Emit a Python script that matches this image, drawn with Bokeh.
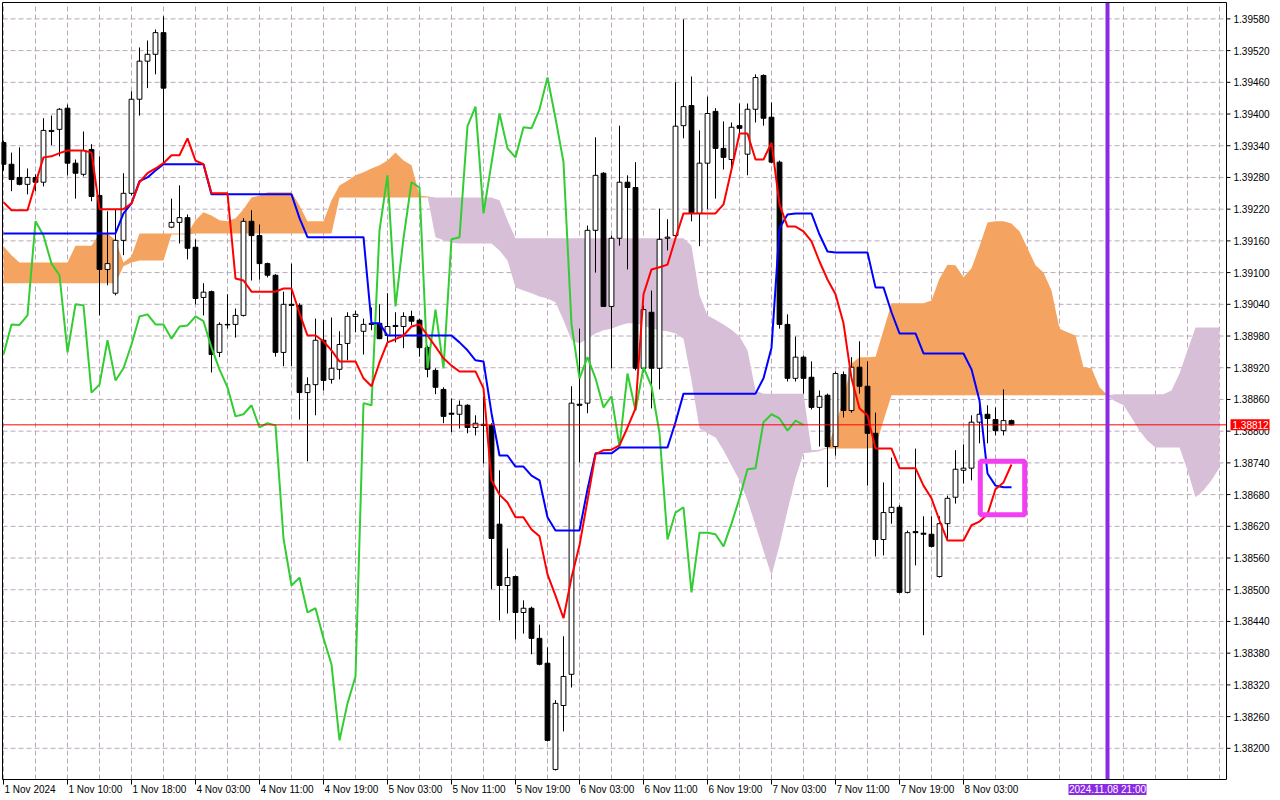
import numpy as np
from bokeh.plotting import figure
from bokeh.models import Range1d, BoxAnnotation, GlobalInlineStyleSheet
from bokeh.core.properties import value
from bokeh.embed import file_html
from bokeh.resources import INLINE

# ---------------- data (H1 candles, 1 Nov 2024 -> 8 Nov 2024 09:00) ----------------
opens = [1.39346, 1.39305, 1.39280, 1.39267, 1.39280, 1.39271, 1.39367, 1.39371, 1.39411, 1.39307,
         1.39286, 1.39333, 1.39246, 1.39106, 1.39061, 1.39161, 1.39250, 1.39428, 1.39500, 1.39513,
         1.39554, 1.39186, 1.39195, 1.39204, 1.39148, 1.39053, 1.39064, 1.38949, 1.39002, 1.39002,
         1.39019, 1.39197, 1.39170, 1.39117, 1.39095, 1.38949, 1.39040, 1.39038, 1.38873, 1.38888,
         1.38972, 1.38898, 1.38917, 1.38966, 1.39017, 1.38989, 1.39004, 1.39004, 1.38981, 1.38998,
         1.38998, 1.39017, 1.39010, 1.38958, 1.38915, 1.38879, 1.38834, 1.38832, 1.38849, 1.38807,
         1.38813, 1.38811, 1.38624, 1.38508, 1.38525, 1.38457, 1.38465, 1.38408, 1.38361, 1.38160,
         1.38281, 1.38340, 1.38851, 1.38853, 1.39180, 1.39288, 1.39036, 1.39165, 1.39271, 1.39261,
         1.38919, 1.39025, 1.38919, 1.39165, 1.39170, 1.39378, 1.39416, 1.39212, 1.39307, 1.39405,
         1.39335, 1.39314, 1.39378, 1.39324, 1.39409, 1.39473, 1.39394, 1.39309, 1.39002, 1.38900,
         1.38940, 1.38902, 1.38845, 1.38868, 1.38771, 1.38907, 1.38839, 1.38921, 1.38885, 1.38796,
         1.38595, 1.38646, 1.38656, 1.38495, 1.38610, 1.38607, 1.38605, 1.38525, 1.38625, 1.38675,
         1.38726, 1.38730, 1.38817, 1.38832, 1.38822, 1.38801, 1.38820]
highs = [1.39350, 1.39327, 1.39337, 1.39297, 1.39286, 1.39392, 1.39397, 1.39411, 1.39418, 1.39314,
         1.39367, 1.39343, 1.39320, 1.39216, 1.39220, 1.39288, 1.39443, 1.39526, 1.39539, 1.39560,
         1.39585, 1.39240, 1.39265, 1.39210, 1.39163, 1.39080, 1.39066, 1.39006, 1.39059, 1.39032,
         1.39203, 1.39218, 1.39191, 1.39119, 1.39097, 1.39064, 1.39117, 1.39042, 1.38902, 1.39013,
         1.39010, 1.39015, 1.38989, 1.39025, 1.39028, 1.39013, 1.39034, 1.39040, 1.39061, 1.39025,
         1.39025, 1.39028, 1.39013, 1.38962, 1.38919, 1.38883, 1.38862, 1.38858, 1.38851, 1.38830,
         1.38866, 1.38815, 1.38726, 1.38578, 1.38527, 1.38480, 1.38468, 1.38434, 1.38391, 1.38291,
         1.38412, 1.38885, 1.38994, 1.39189, 1.39356, 1.39290, 1.39170, 1.39378, 1.39284, 1.39309,
         1.39038, 1.39066, 1.39221, 1.39201, 1.39460, 1.39579, 1.39471, 1.39369, 1.39433, 1.39411,
         1.39386, 1.39384, 1.39420, 1.39420, 1.39475, 1.39475, 1.39422, 1.39312, 1.39021, 1.38979,
         1.38943, 1.38932, 1.38877, 1.38871, 1.38913, 1.38913, 1.38940, 1.38970, 1.38932, 1.38835,
         1.38703, 1.38750, 1.38660, 1.38612, 1.38767, 1.38639, 1.38639, 1.38639, 1.38678, 1.38764,
         1.38775, 1.38830, 1.38862, 1.38849, 1.38845, 1.38879, 1.38822]
lows = [1.39293, 1.39254, 1.39265, 1.39248, 1.39254, 1.39263, 1.39341, 1.39320, 1.39284, 1.39240,
        1.39282, 1.39235, 1.39019, 1.39076, 1.39057, 1.39133, 1.39246, 1.39397, 1.39449, 1.39475,
        1.39309, 1.39184, 1.39155, 1.39125, 1.39040, 1.39019, 1.38911, 1.38940, 1.38994, 1.38977,
        1.39017, 1.39085, 1.39087, 1.39091, 1.38941, 1.38923, 1.38923, 1.38822, 1.38743, 1.38830,
        1.38877, 1.38890, 1.38898, 1.38934, 1.38987, 1.38945, 1.38991, 1.38974, 1.38968, 1.38968,
        1.38957, 1.39000, 1.38941, 1.38902, 1.38870, 1.38815, 1.38798, 1.38805, 1.38796, 1.38792,
        1.38739, 1.38501, 1.38442, 1.38455, 1.38406, 1.38417, 1.38378, 1.38357, 1.38213, 1.38158,
        1.38232, 1.38315, 1.38741, 1.38834, 1.39100, 1.39036, 1.38919, 1.39151, 1.39106, 1.38915,
        1.38911, 1.38843, 1.38879, 1.39142, 1.39167, 1.39354, 1.39197, 1.39150, 1.39220, 1.39240,
        1.39295, 1.39295, 1.39363, 1.39284, 1.39384, 1.39378, 1.39307, 1.38994, 1.38894, 1.38894,
        1.38871, 1.38841, 1.38771, 1.38694, 1.38754, 1.38826, 1.38835, 1.38871, 1.38697, 1.38563,
        1.38565, 1.38625, 1.38493, 1.38493, 1.38546, 1.38414, 1.38580, 1.38523, 1.38593, 1.38663,
        1.38701, 1.38707, 1.38777, 1.38777, 1.38792, 1.38792, 1.38811]
closes = [1.39305, 1.39276, 1.39267, 1.39280, 1.39271, 1.39369, 1.39369, 1.39409, 1.39307, 1.39288,
          1.39331, 1.39244, 1.39106, 1.39117, 1.39161, 1.39250, 1.39428, 1.39500, 1.39513, 1.39554,
          1.39449, 1.39195, 1.39204, 1.39146, 1.39051, 1.39063, 1.38945, 1.39002, 1.39001, 1.39019,
          1.39197, 1.39170, 1.39117, 1.39095, 1.38949, 1.39040, 1.39038, 1.38873, 1.38888, 1.38972,
          1.38896, 1.38919, 1.38964, 1.39017, 1.39021, 1.39002, 1.39002, 1.38975, 1.38998, 1.39000,
          1.39017, 1.39008, 1.38958, 1.38917, 1.38883, 1.38828, 1.38832, 1.38849, 1.38807, 1.38815,
          1.38811, 1.38597, 1.38508, 1.38523, 1.38457, 1.38465, 1.38408, 1.38359, 1.38215, 1.38285,
          1.38336, 1.38853, 1.38849, 1.39180, 1.39284, 1.39036, 1.39165, 1.39271, 1.39261, 1.38919,
          1.39030, 1.38919, 1.39163, 1.39167, 1.39377, 1.39414, 1.39212, 1.39307, 1.39401, 1.39335,
          1.39318, 1.39375, 1.39373, 1.39409, 1.39469, 1.39392, 1.39309, 1.39002, 1.38900, 1.38940,
          1.38900, 1.38845, 1.38866, 1.38771, 1.38909, 1.38839, 1.38921, 1.38885, 1.38796, 1.38595,
          1.38646, 1.38656, 1.38495, 1.38608, 1.38608, 1.38605, 1.38582, 1.38625, 1.38673, 1.38728,
          1.38730, 1.38817, 1.38832, 1.38824, 1.38801, 1.38820, 1.38812]

tenkan = [1.39233, 1.39218, 1.39218, 1.39218, 1.39269, 1.39318, 1.39320, 1.39326, 1.39331, 1.39331,
          1.39331, 1.39327, 1.39220, 1.39220, 1.39220, 1.39220, 1.39231, 1.39271, 1.39288, 1.39297,
          1.39307, 1.39322, 1.39322, 1.39354, 1.39312, 1.39305, 1.39250, 1.39250, 1.39250, 1.39089,
          1.39085, 1.39064, 1.39064, 1.39064, 1.39064, 1.39070, 1.39070, 1.39023, 1.38981, 1.38981,
          1.38970, 1.38953, 1.38932, 1.38932, 1.38932, 1.38900, 1.38885, 1.38930, 1.38968, 1.38974,
          1.38981, 1.38998, 1.39002, 1.38981, 1.38960, 1.38938, 1.38924, 1.38913, 1.38913, 1.38913,
          1.38881, 1.38707, 1.38680, 1.38665, 1.38637, 1.38637, 1.38614, 1.38601, 1.38529, 1.38489,
          1.38446, 1.38523, 1.38584, 1.38669, 1.38756, 1.38764, 1.38765, 1.38773, 1.38807, 1.38843,
          1.39059, 1.39106, 1.39110, 1.39115, 1.39165, 1.39212, 1.39212, 1.39212, 1.39212, 1.39212,
          1.39229, 1.39295, 1.39363, 1.39363, 1.39314, 1.39314, 1.39346, 1.39229, 1.39187, 1.39187,
          1.39178, 1.39159, 1.39121, 1.39087, 1.39059, 1.39004, 1.38900, 1.38843, 1.38830, 1.38767,
          1.38767, 1.38767, 1.38730, 1.38730, 1.38730, 1.38697, 1.38673, 1.38631, 1.38593, 1.38593,
          1.38593, 1.38622, 1.38629, 1.38643, 1.38690, 1.38703, 1.38737]

kijun = [1.39174, 1.39174, 1.39174, 1.39174, 1.39174, 1.39174, 1.39174, 1.39174, 1.39174, 1.39174,
         1.39174, 1.39174, 1.39174, 1.39174, 1.39174, 1.39212, 1.39231, 1.39273, 1.39280, 1.39293,
         1.39305, 1.39305, 1.39305, 1.39305, 1.39305, 1.39305, 1.39248, 1.39248, 1.39248, 1.39248,
         1.39248, 1.39248, 1.39248, 1.39248, 1.39248, 1.39248, 1.39248, 1.39203, 1.39167, 1.39167,
         1.39167, 1.39167, 1.39167, 1.39167, 1.39167, 1.39167, 1.39004, 1.39004, 1.38981, 1.38981,
         1.38981, 1.38981, 1.38981, 1.38981, 1.38981, 1.38981, 1.38981, 1.38968, 1.38953, 1.38934,
         1.38932, 1.38834, 1.38754, 1.38754, 1.38733, 1.38733, 1.38716, 1.38707, 1.38637, 1.38612,
         1.38612, 1.38612, 1.38612, 1.38690, 1.38758, 1.38758, 1.38758, 1.38769, 1.38769, 1.38769,
         1.38769, 1.38769, 1.38769, 1.38769, 1.38817, 1.38871, 1.38871, 1.38871, 1.38871, 1.38871,
         1.38871, 1.38871, 1.38871, 1.38871, 1.38871, 1.38900, 1.38958, 1.39184, 1.39210, 1.39212,
         1.39212, 1.39212, 1.39172, 1.39140, 1.39138, 1.39138, 1.39138, 1.39138, 1.39138, 1.39072,
         1.39072, 1.39025, 1.38985, 1.38985, 1.38985, 1.38947, 1.38947, 1.38947, 1.38947, 1.38947,
         1.38947, 1.38917, 1.38858, 1.38720, 1.38697, 1.38694, 1.38694]

senkou_a = [1.39150, 1.39133, 1.39119, 1.39119, 1.39119, 1.39119, 1.39119, 1.39119, 1.39119, 1.39151,
            1.39151, 1.39151, 1.39174, 1.39174, 1.39161, 1.39119, 1.39131, 1.39174, 1.39174, 1.39174,
            1.39174, 1.39174, 1.39174, 1.39174, 1.39199, 1.39214, 1.39208, 1.39199, 1.39197, 1.39203,
            1.39220, 1.39242, 1.39246, 1.39252, 1.39252, 1.39252, 1.39252, 1.39227, 1.39197, 1.39197,
            1.39197, 1.39237, 1.39265, 1.39274, 1.39284, 1.39290, 1.39297, 1.39303, 1.39312, 1.39327,
            1.39312, 1.39303, 1.39246, 1.39244, 1.39167, 1.39161, 1.39157, 1.39155, 1.39155, 1.39155,
            1.39155, 1.39155, 1.39142, 1.39123, 1.39072, 1.39066, 1.39061, 1.39055, 1.39051, 1.39044,
            1.39010, 1.38972, 1.38966, 1.38975, 1.38985, 1.38991, 1.38994, 1.39000, 1.39004, 1.39004,
            1.39000, 1.38994, 1.38991, 1.38989, 1.38985, 1.38975, 1.38896, 1.38805, 1.38796, 1.38788,
            1.38764, 1.38735, 1.38707, 1.38669, 1.38622, 1.38574, 1.38527, 1.38584, 1.38650, 1.38711,
            1.38758, 1.38760, 1.38762, 1.38769, 1.38811, 1.38862, 1.38928, 1.38940, 1.38940, 1.38941,
            1.38991, 1.39042, 1.39042, 1.39042, 1.39042, 1.39042, 1.39047, 1.39089, 1.39115, 1.39114,
            1.39091, 1.39108, 1.39150, 1.39195, 1.39197, 1.39197, 1.39193, 1.39178, 1.39146, 1.39114,
            1.39100, 1.39066, 1.38994, 1.38987, 1.38981, 1.38921, 1.38919, 1.38883, 1.38866, 1.38856,
            1.38849, 1.38826, 1.38801, 1.38782, 1.38769, 1.38769, 1.38769, 1.38769, 1.38726, 1.38675,
            1.38688, 1.38707, 1.38731]

senkou_b = [1.39080, 1.39080, 1.39080, 1.39080, 1.39080, 1.39080, 1.39080, 1.39080, 1.39080, 1.39080,
            1.39080, 1.39080, 1.39080, 1.39080, 1.39080, 1.39112, 1.39119, 1.39123, 1.39123, 1.39123,
            1.39123, 1.39172, 1.39172, 1.39172, 1.39174, 1.39174, 1.39174, 1.39174, 1.39174, 1.39174,
            1.39174, 1.39174, 1.39174, 1.39174, 1.39174, 1.39174, 1.39174, 1.39174, 1.39174, 1.39174,
            1.39174, 1.39174, 1.39242, 1.39242, 1.39242, 1.39242, 1.39242, 1.39242, 1.39242, 1.39242,
            1.39242, 1.39242, 1.39242, 1.39242, 1.39242, 1.39242, 1.39242, 1.39242, 1.39242, 1.39242,
            1.39242, 1.39242, 1.39237, 1.39199, 1.39165, 1.39165, 1.39165, 1.39165, 1.39165, 1.39165,
            1.39165, 1.39165, 1.39165, 1.39165, 1.39165, 1.39165, 1.39165, 1.39165, 1.39165, 1.39165,
            1.39165, 1.39165, 1.39165, 1.39165, 1.39165, 1.39165, 1.39151, 1.39057, 1.39019, 1.39011,
            1.39002, 1.38992, 1.38979, 1.38953, 1.38877, 1.38871, 1.38871, 1.38871, 1.38871, 1.38871,
            1.38871, 1.38764, 1.38765, 1.38767, 1.38767, 1.38767, 1.38767, 1.38767, 1.38767, 1.38769,
            1.38820, 1.38868, 1.38868, 1.38868, 1.38868, 1.38868, 1.38868, 1.38868, 1.38868, 1.38868,
            1.38868, 1.38868, 1.38868, 1.38868, 1.38868, 1.38868, 1.38868, 1.38868, 1.38868, 1.38868,
            1.38868, 1.38868, 1.38868, 1.38868, 1.38868, 1.38868, 1.38868, 1.38868, 1.38868, 1.38870,
            1.38870, 1.38870, 1.38870, 1.38870, 1.38870, 1.38870, 1.38877, 1.38909, 1.38953, 1.38996,
            1.38996, 1.38996, 1.38996]

y_ticks = [1.38200, 1.38260, 1.38320, 1.38380, 1.38440, 1.38500, 1.38560, 1.38620, 1.38680,
           1.38740, 1.38800, 1.38860, 1.38920, 1.38980, 1.39040, 1.39100, 1.39160, 1.39220,
           1.39280, 1.39340, 1.39400, 1.39460, 1.39520, 1.39580]
x_tick_bars = [0, 8, 16, 24, 32, 40, 48, 56, 64, 72, 80, 88, 96, 104, 112, 120]
x_tick_labels = ["1 Nov 2024", "1 Nov 10:00", "1 Nov 18:00", "4 Nov 03:00", "4 Nov 11:00",
                 "4 Nov 19:00", "5 Nov 03:00", "5 Nov 11:00", "5 Nov 19:00", "6 Nov 03:00",
                 "6 Nov 11:00", "6 Nov 19:00", "7 Nov 03:00", "7 Nov 11:00", "7 Nov 19:00",
                 "8 Nov 03:00"]
ichimoku_shift = 26
marker_bar = 138
marker_text = "2024.11.08 21:00"
highlight = dict(left=122.1, right=127.65, top=1.38743, bottom=1.38642)

# ---------------- layout constants (chart area inside the canvas) ----------------
AX0, AX1 = -0.125, 152.875          # chart area in bar units (8 px per bar)
AY0, AY1 = 1.38141, 1.39611         # chart area in price units
PX_X = 8.0                          # pixels per bar
PX_Y = 777.0 / (AY1 - AY0)          # pixels per price unit
W, H = 1280, 800
XS = AX0 - 1.0 / PX_X
YE = AY1 + 1.0 / PX_Y
XE = XS + (W - 1) / PX_X
YS = YE - (H - 1) / PX_Y

FONT = "Liberation Sans"
GRID = "#b9a9b9"

o = np.array(opens); h = np.array(highs); l = np.array(lows); c = np.array(closes)
n = len(c)
bars = np.arange(n)
cloud_x = np.arange(len(senkou_a))
sa = np.array(senkou_a); sb = np.array(senkou_b)

p = figure(width=W, height=H, x_range=Range1d(XS, XE), y_range=Range1d(YS, YE),
           output_backend="svg", toolbar_location=None,
           x_axis_location=None, y_axis_location=None,
           min_border_left=1, min_border_top=1, min_border_right=0, min_border_bottom=0)
p.stylesheets = [GlobalInlineStyleSheet(
    css="html, body { margin: 0 !important; padding: 0 !important; overflow: hidden !important; }")]
p.grid.visible = False
p.outline_line_color = None
p.background_fill_color = "white"
p.border_fill_color = "white"

# grid (dashed)
gx = np.arange(0, AX1, 4)
p.segment(x0=gx, y0=AY0, x1=gx, y1=AY1, line_color=GRID, line_dash="5 3", line_width=1)
p.segment(x0=AX0, y0=y_ticks, x1=AX1, y1=y_ticks, line_color=GRID, line_dash="5 3", line_width=1)

# cloud (Senkou A / B)
p.varea(x=cloud_x, y1=sb, y2=np.maximum(sa, sb), fill_color="#f4a460")
p.varea(x=cloud_x, y1=sa, y2=np.maximum(sa, sb), fill_color="#d8bfd8")

# candles
up = c >= o
p.segment(x0=bars, y0=l, x1=bars, y1=h, line_color="black", line_width=1)
p.vbar(x=bars, width=0.6, top=np.maximum(o, c), bottom=np.minimum(o, c),
       fill_color=np.where(up, "white", "black").tolist(), line_color="black", line_width=1)

# Ichimoku lines
p.line(bars[:n - ichimoku_shift], c[ichimoku_shift:], line_color="#32cd32", line_width=2)
p.line(bars, kijun, line_color="#0000ff", line_width=2)
p.line(bars, tenkan, line_color="#ff0000", line_width=2)

# current price line, marker line, highlight box
p.segment(x0=AX0, y0=closes[-1], x1=AX1, y1=closes[-1], line_color="#ff0000", line_width=1)
p.segment(x0=marker_bar, y0=AY0, x1=marker_bar, y1=AY1, line_color="#8a2be2", line_width=4)
p.add_layout(BoxAnnotation(left=highlight["left"], right=highlight["right"],
                           top=highlight["top"], bottom=highlight["bottom"],
                           fill_alpha=0, line_color="#f23ff2", line_alpha=1.0, line_width=5))

# frame / axes lines
p.segment(x0=[AX0, AX0, AX0, AX1], y0=[AY0, AY1, AY0, AY0],
          x1=[AX1, AX1, AX0, AX1], y1=[AY0, AY1, AY1, AY1], line_color="black", line_width=1)

# right price axis
p.segment(x0=AX1, y0=y_ticks, x1=AX1 + 4 / PX_X, y1=y_ticks, line_color="black", line_width=1)
p.text(x=AX1, y=y_ticks, text=["%.5f" % t for t in y_ticks], x_offset=7,
       text_align="left", text_baseline="middle", text_font=value(FONT),
       text_font_size="10px", text_color="black")

# bottom time axis
p.segment(x0=x_tick_bars, y0=AY0, x1=x_tick_bars, y1=AY0 - 5 / PX_Y, line_color="black", line_width=1)
p.text(x=x_tick_bars, y=AY0 - 4 / PX_Y, text=x_tick_labels, x_offset=1,
       text_align="left", text_baseline="top", text_font=value(FONT),
       text_font_size="10px", text_color="black")

# current price tag
p.rect(x=AX1 + 23.5 / PX_X, y=closes[-1], width=39 / PX_X, height=11, height_units="screen",
       fill_color="#ff0000", line_color=None)
p.text(x=AX1, y=[closes[-1]], text=["%.5f" % closes[-1]], x_offset=6,
       text_align="left", text_baseline="middle", text_font=value(FONT),
       text_font_size="10px", text_color="white")

# time marker tag
p.rect(x=marker_bar, y=AY0 - 10 / PX_Y, width=78 / PX_X, height=11, height_units="screen",
       fill_color="#8a2be2", line_color=None)
p.text(x=marker_bar, y=[AY0 - 10 / PX_Y], text=[marker_text],
       text_align="center", text_baseline="middle", text_font=value(FONT),
       text_font_size="10px", text_color="white")

open("out.html", "w").write(file_html(p, INLINE))
